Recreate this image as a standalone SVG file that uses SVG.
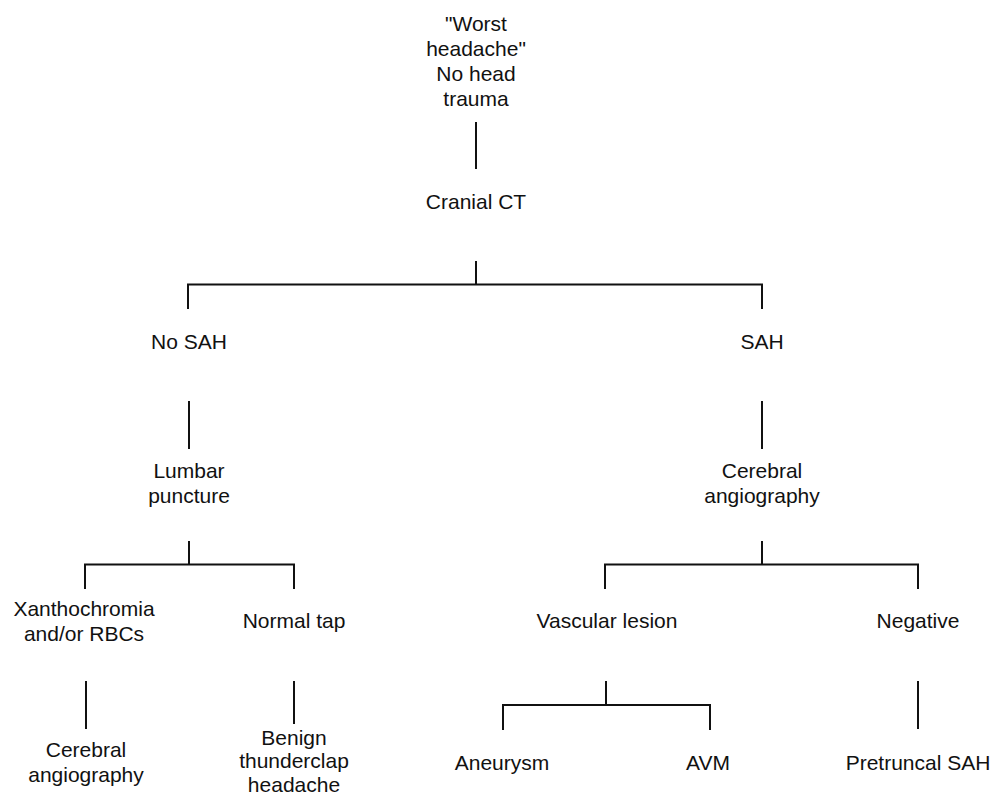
<svg xmlns="http://www.w3.org/2000/svg" width="991" height="798" viewBox="0 0 991 798">
<style>
text{font-family:"Liberation Sans",Arial,sans-serif;font-size:21px;fill:#111;text-anchor:middle}
.c{stroke:#111;stroke-width:2;fill:none}
</style>
<rect width="991" height="798" fill="#fff"/>
<g id="connectors" class="c">
<path d="M476,122V169"/>
<path d="M476,261V285M188,309V284.5H762V309"/>
<path d="M189,401V449M762,401V449"/>
<path d="M189,541V565M85,589V564.5H294V589"/>
<path d="M762,541V565M605,589V564.5H918V589"/>
<path d="M86,681V729M294,681V724M918,681V729"/>
<path d="M606,681V705M503,730V705H710V730"/>
</g>
<g id="n-worst"><text x="476" y="31">"Worst</text><text x="476" y="56">headache"</text><text x="476" y="81">No head</text><text x="476" y="106">trauma</text></g>
<g id="n-ct"><text x="476" y="209">Cranial CT</text></g>
<g id="n-nosah"><text x="189" y="349">No SAH</text></g>
<g id="n-sah"><text x="762" y="349">SAH</text></g>
<g id="n-lp"><text x="189" y="478">Lumbar</text><text x="189" y="503">puncture</text></g>
<g id="n-angio1"><text x="762" y="478">Cerebral</text><text x="762" y="503">angiography</text></g>
<g id="n-xantho"><text x="84" y="616">Xanthochromia</text><text x="84" y="641">and/or RBCs</text></g>
<g id="n-normal"><text x="294" y="628">Normal tap</text></g>
<g id="n-vasc"><text x="607" y="628">Vascular lesion</text></g>
<g id="n-neg"><text x="918" y="628">Negative</text></g>
<g id="n-angio2"><text x="86" y="757">Cerebral</text><text x="86" y="782">angiography</text></g>
<g id="n-benign"><text x="294" y="745">Benign</text><text x="294" y="768">thunderclap</text><text x="294" y="792">headache</text></g>
<g id="n-aneurysm"><text x="502" y="770">Aneurysm</text></g>
<g id="n-avm"><text x="708" y="770">AVM</text></g>
<g id="n-pretruncal"><text x="918" y="770">Pretruncal SAH</text></g>
</svg>
